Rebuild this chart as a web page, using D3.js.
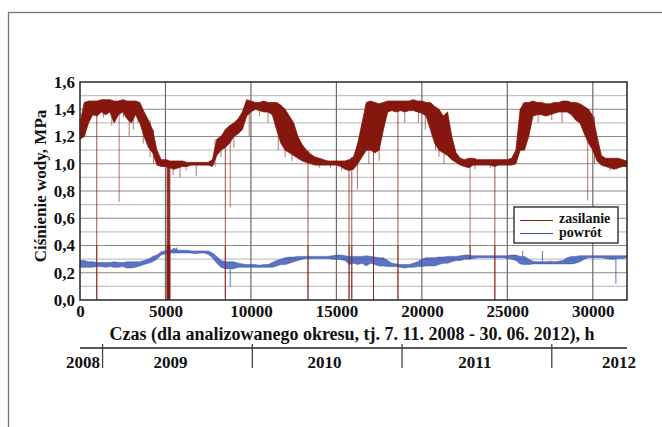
<!DOCTYPE html>
<html>
<head>
<meta charset="utf-8">
<script src="https://cdn.jsdelivr.net/npm/d3@7"></script>
<style>
  body { margin: 0; background: #fff; }
  svg text { font-family: "Liberation Serif", "Times New Roman", "DejaVu Serif", serif; font-weight: bold; fill: #111; }
</style>
</head>
<body>
<div id="chart"></div>
<script>
const hours = [0,250,500,750,1000,1250,1500,1750,2000,2250,2500,2750,3000,3250,3500,3750,
  4000,4250,4500,4750,5000,5250,5500,5750,6000,6250,6500,6750,7000,7250,7500,7750,
  8000,8250,8500,8750,9000,9250,9500,9750,10000,10250,10500,10750,11000,11250,11500,11750,
  12000,12250,12500,12750,13000,13250,13500,13750,14000,14250,14500,14750,15000,15250,15500,15750,
  16000,16250,16500,16750,17000,17250,17500,17750,18000,18250,18500,18750,19000,19250,19500,19750,
  20000,20250,20500,20750,21000,21250,21500,21750,22000,22250,22500,22750,23000,23250,23500,23750,
  24000,24250,24500,24750,25000,25250,25500,25750,26000,26250,26500,26750,27000,27250,27500,27750,
  28000,28250,28500,28750,29000,29250,29500,29750,30000,30250,30500,30750,31000,31250,31500,31750,
  32000];

const supplyLo = [1.18,1.20,1.30,1.36,1.35,1.38,1.36,1.38,1.30,1.36,1.38,1.33,1.30,1.36,1.30,1.20,
  1.12,1.08,0.99,0.98,0.98,0.97,0.96,0.97,0.98,0.98,0.99,0.99,0.99,0.99,0.99,0.98,
  1.06,1.10,1.12,1.15,1.20,1.22,1.25,1.35,1.38,1.40,1.39,1.38,1.38,1.36,1.25,1.15,
  1.10,1.08,1.06,1.04,1.02,1.01,1.00,0.99,0.99,0.99,0.99,0.99,0.99,0.98,0.96,0.95,
  0.96,1.00,1.05,1.10,1.10,1.08,1.10,1.25,1.38,1.39,1.38,1.39,1.38,1.39,1.39,1.38,
  1.37,1.35,1.25,1.15,1.10,1.08,1.06,1.03,1.01,0.99,0.98,0.97,0.99,0.99,0.99,0.99,
  0.99,0.98,0.99,0.99,0.99,0.99,1.00,1.10,1.10,1.20,1.35,1.36,1.36,1.35,1.36,1.37,
  1.38,1.38,1.38,1.36,1.32,1.30,1.22,1.15,1.10,1.02,0.99,0.98,0.97,0.96,0.97,0.98,
  0.98];
const supplyHi = [1.30,1.45,1.46,1.46,1.46,1.47,1.47,1.47,1.46,1.46,1.47,1.46,1.46,1.46,1.45,1.38,
  1.32,1.25,1.10,1.03,1.03,1.02,1.02,1.02,1.02,1.01,1.01,1.01,1.01,1.01,1.01,1.03,
  1.18,1.20,1.25,1.28,1.30,1.33,1.38,1.47,1.46,1.45,1.45,1.46,1.45,1.45,1.45,1.43,
  1.40,1.35,1.30,1.20,1.14,1.10,1.07,1.05,1.04,1.03,1.02,1.02,1.02,1.02,1.02,1.03,
  1.05,1.15,1.30,1.45,1.46,1.45,1.44,1.45,1.46,1.46,1.46,1.46,1.46,1.46,1.47,1.46,
  1.46,1.45,1.45,1.42,1.40,1.35,1.38,1.20,1.08,1.04,1.03,1.04,1.04,1.03,1.03,1.03,
  1.03,1.03,1.03,1.03,1.03,1.04,1.10,1.40,1.45,1.45,1.46,1.45,1.45,1.44,1.44,1.45,
  1.45,1.46,1.46,1.45,1.45,1.44,1.42,1.40,1.35,1.20,1.06,1.04,1.04,1.04,1.04,1.03,
  1.02];

const returnLo = [.24,.24,.24,.24,.245,.245,.24,.245,.24,.24,.245,.235,.235,.24,.25,.26,
  .27,.28,.30,.33,.34,.345,.345,.345,.345,.345,.345,.34,.345,.345,.335,.31,
  .27,.24,.23,.23,.23,.24,.24,.24,.24,.24,.24,.24,.24,.24,.25,.26,
  .26,.27,.28,.29,.30,.305,.305,.305,.305,.305,.305,.30,.30,.295,.29,.26,
  .27,.26,.27,.25,.27,.26,.25,.25,.245,.245,.245,.24,.235,.24,.24,.245,
  .245,.25,.25,.25,.26,.27,.27,.28,.29,.29,.30,.30,.305,.31,.31,.31,
  .31,.31,.31,.31,.305,.30,.29,.265,.26,.26,.265,.265,.265,.265,.265,.265,
  .265,.265,.265,.265,.27,.28,.30,.31,.31,.31,.31,.305,.30,.30,.305,.305,
  .31];
const returnHi = [.29,.29,.28,.28,.275,.275,.275,.275,.28,.275,.275,.28,.28,.28,.28,.29,
  .30,.32,.33,.355,.36,.36,.38,.365,.365,.365,.36,.36,.36,.36,.36,.345,
  .32,.29,.28,.28,.28,.27,.265,.26,.26,.26,.255,.26,.26,.275,.29,.30,
  .31,.315,.315,.32,.32,.32,.32,.32,.32,.32,.32,.325,.33,.33,.325,.32,
  .32,.32,.32,.325,.32,.315,.31,.31,.29,.27,.265,.26,.26,.26,.27,.28,
  .30,.31,.31,.31,.315,.315,.32,.32,.32,.325,.33,.33,.325,.325,.325,.325,
  .325,.325,.325,.325,.325,.33,.33,.32,.32,.30,.285,.28,.28,.28,.285,.28,
  .285,.29,.31,.32,.32,.325,.325,.325,.325,.325,.325,.325,.325,.325,.325,.325,
  .325];

// pojedyncze zaniki / skoki: [godzina, wartosc]
const supplyDips = [[290,1.20],[980,0],[1370,1.34],[1860,1.28],[2290,0.72],[2540,1.34],
  [2880,1.20],[3120,1.25],[3400,1.30],[3700,1.15],[4100,1.05],[4300,1.00],
  [5120,0],[5180,0],[5230,0],[5450,0.92],[5850,0.90],[6200,0.95],[6800,0.91],
  [7900,0.98],[8250,1.05],[8500,0],[8790,0.68],[9000,1.12],[9900,1.20],[10500,1.35],[11000,1.30],
  [11600,1.10],[12000,1.05],[12400,1.02],[13340,0],[14000,0.97],[14650,0.97],[15300,0.95],
  [15740,0],[15900,0],[16230,0.81],[16900,1.00],[17170,0],[17500,1.02],[18600,0],[19000,1.30],
  [19800,1.30],[20200,1.25],[20800,1.10],[21000,1.05],[21300,1.00],[22820,0.30],[23100,0.96],
  [24000,0.97],[24270,0],[25900,1.10],[26800,1.30],[27600,1.32],[28200,1.30],[29700,0.73],
  [30100,1.00],[31000,0.95],[31400,0.96]];
const returnSpikes = [[5650,0.385],[8790,0.10],[25900,0.36],[27050,0.36],[31350,0.12]];

const xTicks = [0,5000,10000,15000,20000,25000,30000];
const yTicks = [0,0.2,0.4,0.6,0.8,1.0,1.2,1.4,1.6];
const yGrid = [0.1,0.2,0.3,0.4,0.5,0.6,0.7,0.8,0.9,1.0,1.1,1.2,1.3,1.4,1.5];
const yearStarts = [1320,10080,18840,27600];
const yearLabels = ["2008","2009","2010","2011","2012"];
const yearLabelHours = [-1000,5300,14300,23100,33000];

const seriesNames = ["zasilanie","powrót"];
const colors = ["#86170f","#3350b2"];

const W = 662, H = 427;
const FONT = '"Liberation Serif", "Times New Roman", "DejaVu Serif", serif';
const svg = d3.select("#chart").append("svg").attr("width", W).attr("height", H)
  .attr("font-family", FONT);

// ramka zewnetrzna
svg.append("rect").attr("x", 8.5).attr("y", 12.5).attr("width", 700).attr("height", 500)
  .attr("fill", "none").attr("stroke", "#777").attr("stroke-width", 1.3);

const x = d3.scaleLinear().domain([0, 32000]).range([80, 627]);
const y = d3.scaleLinear().domain([0, 1.6]).range([300, 82]);
const pl = d3.formatLocale({decimal: ",", thousands: " ", grouping: [3], currency: ["", " zł"]});
const fmtY = pl.format(".1f");

/* ------------------ siatka ------------------ */
svg.append("g").selectAll("line").data(yGrid).enter().append("line")
  .attr("x1", x(0)).attr("x2", x(32000))
  .attr("y1", d => y(d)).attr("y2", d => y(d))
  .attr("stroke", d => Math.round(d * 10) % 2 === 0 ? "#8a8a8a" : "#c4c4c4")
  .attr("stroke-width", 1.2);

svg.append("g").selectAll("line").data(xTicks.slice(1)).enter().append("line")
  .attr("x1", d => x(d)).attr("x2", d => x(d))
  .attr("y1", y(0)).attr("y2", y(1.6))
  .attr("stroke", "#6a6a6a").attr("stroke-width", 1.2);

/* ------------------ dane ------------------ */
const supply = hours.map((h, i) => ({h: h, lo: supplyLo[i], hi: supplyHi[i]}));
const ret = hours.map((h, i) => ({h: h, lo: returnLo[i], hi: returnHi[i]}));
const band = d3.area().x(d => x(d.h)).y0(d => y(d.lo)).y1(d => y(d.hi));

function bandAt(arr, h) {
  let i = Math.min(arr.length - 1, Math.round(h / 250));
  return arr[i];
}
const thick = d => (d[0] > 5100 && d[0] < 5300) ? 2 : 1;

svg.append("g").selectAll("line").data(supplyDips).enter().append("line")
  .attr("x1", d => x(d[0])).attr("x2", d => x(d[0]))
  .attr("y1", d => y(bandAt(supply, d[0]).hi)).attr("y2", d => y(d[1]))
  .attr("stroke", colors[0]).attr("stroke-opacity", d => d[1] === 0 ? 0.75 : 0.6)
  .attr("stroke-width", thick);

svg.append("path").datum(ret).attr("d", band)
  .attr("fill", colors[1]).attr("fill-opacity", 0.8)
  .attr("stroke", colors[1]).attr("stroke-width", 0.5);

svg.append("g").selectAll("line").data(returnSpikes).enter().append("line")
  .attr("x1", d => x(d[0])).attr("x2", d => x(d[0]))
  .attr("y1", d => y(d[1] < 0.3 ? bandAt(ret, d[0]).lo : bandAt(ret, d[0]).hi)).attr("y2", d => y(d[1]))
  .attr("stroke", colors[1]).attr("stroke-width", 1).attr("stroke-opacity", 0.8);

svg.append("path").datum(supply).attr("d", band)
  .attr("fill", colors[0]).attr("stroke", colors[0]).attr("stroke-width", 0.8);

// zaniki do zera przechodza nad linia powrotu
svg.append("g").selectAll("line").data(supplyDips.filter(d => d[1] < 0.4)).enter().append("line")
  .attr("x1", d => x(d[0])).attr("x2", d => x(d[0]))
  .attr("y1", y(0.4)).attr("y2", d => y(d[1]))
  .attr("stroke", colors[0]).attr("stroke-opacity", 0.75)
  .attr("stroke-width", thick);

// ramka wykresu
svg.append("rect").attr("x", x(0)).attr("y", y(1.6))
  .attr("width", x(32000) - x(0)).attr("height", y(0) - y(1.6))
  .attr("fill", "none").attr("stroke", "#333").attr("stroke-width", 1.6);

/* ------------------ osie ------------------ */
const yAxis = svg.append("g").attr("transform", "translate(" + x(0) + ",0)")
  .call(d3.axisLeft(y).tickValues(yTicks).tickSize(0).tickPadding(5).tickFormat(fmtY));
const xAxis = svg.append("g").attr("transform", "translate(0," + y(0) + ")")
  .call(d3.axisBottom(x).tickValues(xTicks).tickSize(0).tickPadding(5).tickFormat(d3.format("d")));
[yAxis, xAxis].forEach(a => {
  a.attr("font-family", FONT).attr("font-size", 17);
  a.select(".domain").remove();
  a.selectAll("text").attr("fill", "#111");
});

svg.append("text").attr("x", 352).attr("y", 340).attr("text-anchor", "middle")
  .attr("font-size", 18).text("Czas (dla analizowanego okresu, tj. 7. 11. 2008 - 30. 06. 2012), h");

svg.append("text").attr("transform", "translate(46,186) rotate(-90)").attr("text-anchor", "middle")
  .attr("font-size", 17).text("Ciśnienie wody, MPa");

/* ------------------ os lat ------------------ */
svg.append("line").attr("x1", x(0)).attr("x2", x(32000)).attr("y1", 348).attr("y2", 348)
  .attr("stroke", "#222").attr("stroke-width", 1.3);
svg.append("g").selectAll("line").data(yearStarts).enter().append("line")
  .attr("x1", d => x(d)).attr("x2", d => x(d)).attr("y1", 344).attr("y2", 368)
  .attr("stroke", "#444").attr("stroke-width", 1.3);
svg.append("g").selectAll("text").data(yearLabels).enter().append("text")
  .attr("x", (d, i) => i === 0 ? 100 : (i === yearLabels.length - 1 ? 636 : x(yearLabelHours[i])))
  .attr("y", 368)
  .attr("text-anchor", (d, i) => i === 0 || i === yearLabels.length - 1 ? "end" : "middle")
  .attr("font-size", 17).text(d => d);

/* ------------------ legenda ------------------ */
const leg = svg.append("g").attr("transform", "translate(514,207)");
leg.append("rect").attr("width", 104).attr("height", 36)
  .attr("fill", "#fff").attr("stroke", "#222").attr("stroke-width", 1.3);
seriesNames.forEach((name, i) => {
  leg.append("line").attr("x1", 6).attr("x2", 39).attr("y1", 13.5 + i * 13).attr("y2", 13.5 + i * 13)
    .attr("stroke", colors[i]).attr("stroke-width", 1.2);
  leg.append("text").attr("x", 45).attr("y", 15.5 + i * 14).attr("font-size", 14).text(name);
});
</script>
</body>
</html>
